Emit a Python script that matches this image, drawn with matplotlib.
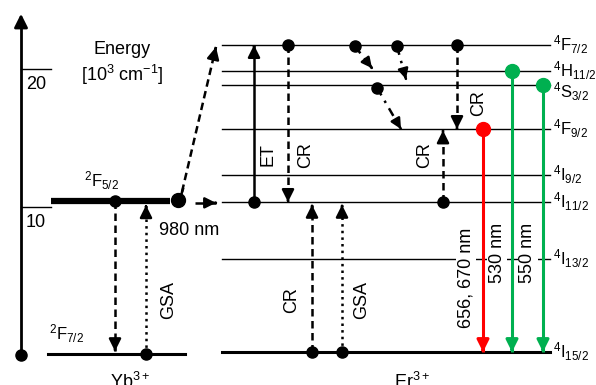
import matplotlib.pyplot as plt

plt.rcParams["font.family"] = ["Liberation Sans", "DejaVu Sans"]
plt.rcParams["mathtext.fontset"] = "custom"
plt.rcParams["mathtext.rm"] = "Liberation Sans"
plt.rcParams["mathtext.it"] = "Liberation Sans"
plt.rcParams["mathtext.default"] = "regular"

# energies in 10^3 cm^-1 as drawn in the diagram
yb_names = ["$^2F_{7/2}$", "$^2F_{5/2}$"]
yb_energy = [-0.65, 10.43]

er_names = ["$^4F_{7/2}$", "$^4H_{11/2}$", "$^4S_{3/2}$", "$^4F_{9/2}$",
            "$^4I_{9/2}$", "$^4I_{11/2}$", "$^4I_{13/2}$", "$^4I_{15/2}$"]
er_energy = [21.74, 19.86, 18.84, 15.65, 12.32, 10.36, 6.23, -0.51]
er = dict(zip(["F72", "H112", "S32", "F92", "I92", "I112", "I132", "I152"], er_energy))

axis_ticks = [10, 20]

GREEN = "#00b050"
RED = "#ff0000"
FS = 13
DASH = (0, (3, 1.8))
DASHDOT = (0, (3.5, 2.5, 1, 2.5))

fig = plt.figure(figsize=(5.96, 3.85), dpi=100)
ax = fig.add_axes([0, 0, 1, 1])
ax.set_xlim(0, 596)
ax.set_ylim(-2.9, 25.0)
ax.axis("off")


def arrow(x0, y0, x1, y1, ls="-", color="k", lw=1.8, head=18, dot=True, ms=8):
    ax.plot([x0, x1], [y0, y1], ls=ls, color=color, lw=lw,
            solid_capstyle="butt", dash_capstyle="butt")
    ax.annotate("", xy=(x1, y1), xytext=(x1 - 0.01 * (x1 - x0), y1 - 0.01 * (y1 - y0)),
                arrowprops=dict(arrowstyle="-|>", color=color, lw=lw,
                                mutation_scale=head, shrinkA=0, shrinkB=0))
    if dot:
        ax.plot(x0, y0, "o", color=color, ms=ms)


# energy axis
ax.plot([21, 21], [-0.72, 23.2], color="k", lw=2)
ax.annotate("", xy=(21, 24.0), xytext=(21, 23.0),
            arrowprops=dict(arrowstyle="-|>", color="k", lw=2,
                            mutation_scale=20, shrinkA=0, shrinkB=0))
ax.plot(21, -0.72, "o", color="k", ms=8)
for t in axis_ticks:
    ax.plot([21, 51], [t, t], color="k", lw=1)
    ax.text(26, t - 1.1, str(t), fontsize=FS, va="center", ha="left")
ax.text(122, 21.4, "Energy", fontsize=FS, ha="center", va="center")
ax.text(122, 19.6, "[10$^3$ cm$^{-1}$]", fontsize=FS, ha="center", va="center")

# Yb levels
ax.plot([48, 185], [yb_energy[0]] * 2, color="k", lw=2.2)
ax.plot([51, 170], [yb_energy[1]] * 2, color="k", lw=4.5, solid_capstyle="butt")
ax.text(49, yb_energy[0] + 1.5, yb_names[0], fontsize=12, ha="left", va="center")
ax.text(84, yb_energy[1] + 1.45, yb_names[1], fontsize=12, ha="left", va="center")
ax.text(130, -1.95, "Yb$^{3+}$", fontsize=FS, ha="center", va="top")

arrow(115, yb_energy[1], 115, yb_energy[0] + 0.2, ls=DASH)
arrow(146, yb_energy[0], 146, yb_energy[1] - 0.3, ls=":")
ax.text(169, 3.26, "GSA", fontsize=FS, rotation=90, ha="center", va="center")

ax.plot([180, 183], [10.6, 11.3], color="k", lw=1.8)
arrow(182, 11.1, 216, 21.6, ls=DASH, dot=False)
ax.plot(178, yb_energy[1] + 0.05, "o", color="k", ms=10)
arrow(195, 10.3, 216, 10.3, dot=False, head=16)
ax.text(159, 8.3, "980 nm", fontsize=FS, ha="left", va="center")

# Er levels
for name, e in zip(er_names, er_energy):
    lw = 2.2 if e == er["I152"] else 1.0
    ax.plot([222, 550], [e, e], color="k", lw=lw, zorder=1)
    dy = -0.5 if name.startswith("$^4S") else 0
    ax.text(553, e + dy, name, fontsize=12, ha="left", va="center")
ax.text(412, -1.95, "Er$^{3+}$", fontsize=FS, ha="center", va="top")

arrow(254, er["I112"], 254, er["F72"])
ax.text(268, 13.77, "ET", fontsize=FS, rotation=90, ha="center", va="center")
arrow(288, er["F72"], 288, er["I112"], ls=DASH)
ax.text(306, 13.77, "CR", fontsize=FS, rotation=90, ha="center", va="center")
arrow(312, er["I152"], 312, er["I112"] - 0.2, ls=DASH)
ax.text(292, 3.26, "CR", fontsize=FS, rotation=90, ha="center", va="center")
arrow(342, er["I152"], 342, er["I112"] - 0.2, ls=":")
ax.text(362, 3.26, "GSA", fontsize=FS, rotation=90, ha="center", va="center")

# non-radiative cascade
arrow(355, er["F72"] - 0.1, 372, er["H112"] + 0.2, ls=DASHDOT, head=15)
arrow(397, er["F72"] - 0.1, 406, er["H112"] - 0.6, ls=DASHDOT, head=15)
arrow(377, er["S32"] - 0.2, 401, er["F92"], ls=DASHDOT, head=15)

arrow(457, er["F72"], 457, er["F92"], ls=DASH)
ax.text(479, 17.54, "CR", fontsize=FS, rotation=90, ha="center", va="center")
arrow(443, er["I112"], 443, er["F92"] - 0.1, ls=DASH)
ax.text(425, 13.77, "CR", fontsize=FS, rotation=90, ha="center", va="center")

# emissions
box = dict(fc="white", ec="none", pad=1)
arrow(483, er["F92"], 483, er["I152"], color=RED, lw=2.2, ms=10)
ax.text(466, 4.86, "656, 670 nm", fontsize=FS, rotation=90, ha="center", va="center", bbox=box)
arrow(512, er["H112"], 512, er["I152"], color=GREEN, lw=2.2, ms=10)
ax.text(497, 6.67, "530 nm", fontsize=FS, rotation=90, ha="center", va="center", bbox=box)
arrow(543, er["S32"], 543, er["I152"], color=GREEN, lw=2.2, ms=10)
ax.text(528, 6.67, "550 nm", fontsize=FS, rotation=90, ha="center", va="center", bbox=box)

fig.savefig("out.png", dpi=100)
